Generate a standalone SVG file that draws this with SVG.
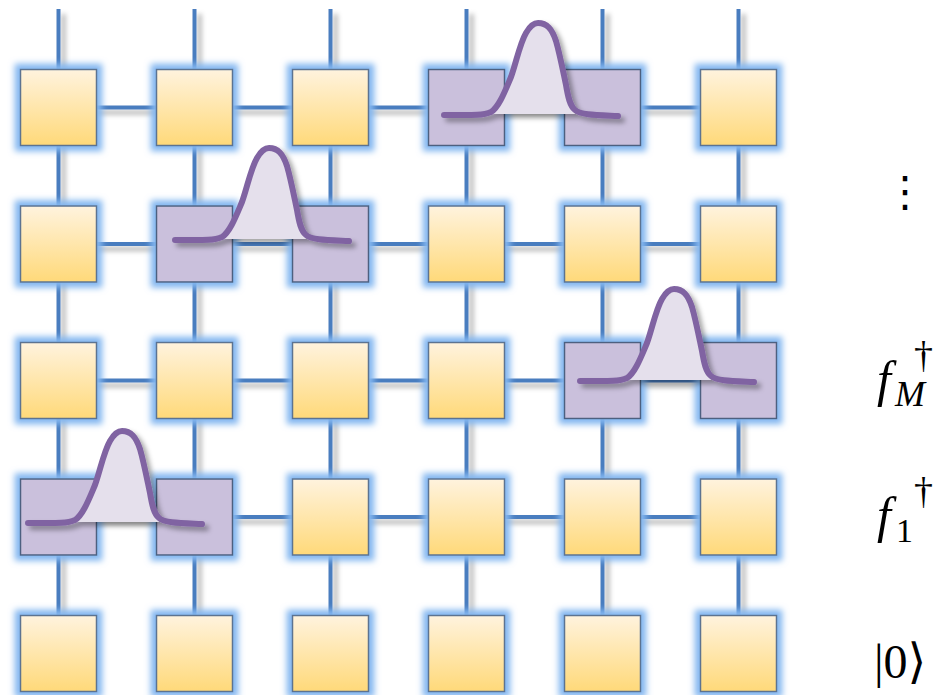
<svg xmlns="http://www.w3.org/2000/svg" xmlns:xlink="http://www.w3.org/1999/xlink" width="940" height="695" viewBox="0 0 940 695">
<defs>
<style>
.ln{stroke:#4a7dbf;stroke-width:4;fill:none}
.sq{fill:url(#yel);stroke:#5b7391;stroke-width:1.5}
.pq{fill:#cac0dc;stroke:#4d6180;stroke-width:1.5}
.gs{fill:none;stroke:#8064a2;stroke-width:6;stroke-linecap:round;stroke-linejoin:round}
.gf{fill:#e5e0ec}
.mt{font-family:"Liberation Serif","DejaVu Serif",serif;fill:#000}
</style>
<linearGradient id="yel" x1="0" y1="0" x2="0" y2="1">
<stop offset="0" stop-color="#fff3de"/>
<stop offset="1" stop-color="#ffd979"/>
</linearGradient>
<filter id="sh" x="-10%" y="-10%" width="120%" height="120%">
<feDropShadow dx="5" dy="5" stdDeviation="2.5" flood-color="#000" flood-opacity="0.3"/>
</filter>
<filter id="glow" x="-30%" y="-30%" width="160%" height="160%">
<feMorphology in="SourceAlpha" operator="dilate" radius="5" result="d"/>
<feGaussianBlur in="d" stdDeviation="3" result="b"/>
<feFlood flood-color="#82b6f0"/>
<feComposite in2="b" operator="in" result="g"/>
<feMerge><feMergeNode in="g"/><feMergeNode in="SourceGraphic"/></feMerge>
</filter>
<filter id="gsh" x="-20%" y="-20%" width="140%" height="140%">
<feDropShadow dx="4" dy="4" stdDeviation="2.5" flood-color="#000" flood-opacity="0.35"/>
</filter>
<g id="gauss" filter="url(#gsh)">
<path class="gf" d="M47,-1 C55,-8 61,-24 67,-38 C72,-52 76,-72 82,-82 C86,-89 90,-92 94,-92 C103,-92 108,-86 112,-74 C116,-60 119,-44 122,-30 C124,-18 126,-9 131,-1 Z"/>
<path class="gs" d="M0,0 C24,0 38,1 47,-3 C55,-8 61,-24 67,-38 C72,-52 76,-72 82,-82 C86,-89 90,-92 94,-92 C103,-92 108,-86 112,-74 C116,-60 119,-44 122,-30 C124,-18 126,-9 131,-5 C137,0 152,0 174,1"/>
</g>
</defs>
<rect width="940" height="695" fill="#fff"/>
<g id="connectors" filter="url(#sh)">
<line class="ln" x1="58.5" y1="9" x2="58.5" y2="616"/>
<line class="ln" x1="194.5" y1="9" x2="194.5" y2="616"/>
<line class="ln" x1="330.5" y1="9" x2="330.5" y2="616"/>
<line class="ln" x1="466.5" y1="9" x2="466.5" y2="616"/>
<line class="ln" x1="602.5" y1="9" x2="602.5" y2="616"/>
<line class="ln" x1="738.5" y1="9" x2="738.5" y2="616"/>
<line class="ln" x1="58.5" y1="107.5" x2="738.5" y2="107.5"/>
<line class="ln" x1="58.5" y1="244" x2="738.5" y2="244"/>
<line class="ln" x1="58.5" y1="380.5" x2="738.5" y2="380.5"/>
<line class="ln" x1="58.5" y1="517" x2="738.5" y2="517"/>
</g>
<g filter="url(#glow)">
<g id="n0_0"><rect class="sq" x="20.5" y="69.5" width="76" height="76"/></g>
<g id="n0_1"><rect class="sq" x="156.5" y="69.5" width="76" height="76"/></g>
<g id="n0_2"><rect class="sq" x="292.5" y="69.5" width="76" height="76"/></g>
<g id="n0_3"><rect class="pq" x="428.5" y="69.5" width="76" height="76"/></g>
<g id="n0_4"><rect class="pq" x="564.5" y="69.5" width="76" height="76"/></g>
<g id="n0_5"><rect class="sq" x="700.5" y="69.5" width="76" height="76"/></g>
<g id="n1_0"><rect class="sq" x="20.5" y="206" width="76" height="76"/></g>
<g id="n1_1"><rect class="pq" x="156.5" y="206" width="76" height="76"/></g>
<g id="n1_2"><rect class="pq" x="292.5" y="206" width="76" height="76"/></g>
<g id="n1_3"><rect class="sq" x="428.5" y="206" width="76" height="76"/></g>
<g id="n1_4"><rect class="sq" x="564.5" y="206" width="76" height="76"/></g>
<g id="n1_5"><rect class="sq" x="700.5" y="206" width="76" height="76"/></g>
<g id="n2_0"><rect class="sq" x="20.5" y="342.5" width="76" height="76"/></g>
<g id="n2_1"><rect class="sq" x="156.5" y="342.5" width="76" height="76"/></g>
<g id="n2_2"><rect class="sq" x="292.5" y="342.5" width="76" height="76"/></g>
<g id="n2_3"><rect class="sq" x="428.5" y="342.5" width="76" height="76"/></g>
<g id="n2_4"><rect class="pq" x="564.5" y="342.5" width="76" height="76"/></g>
<g id="n2_5"><rect class="pq" x="700.5" y="342.5" width="76" height="76"/></g>
<g id="n3_0"><rect class="pq" x="20.5" y="479" width="76" height="76"/></g>
<g id="n3_1"><rect class="pq" x="156.5" y="479" width="76" height="76"/></g>
<g id="n3_2"><rect class="sq" x="292.5" y="479" width="76" height="76"/></g>
<g id="n3_3"><rect class="sq" x="428.5" y="479" width="76" height="76"/></g>
<g id="n3_4"><rect class="sq" x="564.5" y="479" width="76" height="76"/></g>
<g id="n3_5"><rect class="sq" x="700.5" y="479" width="76" height="76"/></g>
<g id="n4_0"><rect class="sq" x="20.5" y="615.5" width="76" height="76"/></g>
<g id="n4_1"><rect class="sq" x="156.5" y="615.5" width="76" height="76"/></g>
<g id="n4_2"><rect class="sq" x="292.5" y="615.5" width="76" height="76"/></g>
<g id="n4_3"><rect class="sq" x="428.5" y="615.5" width="76" height="76"/></g>
<g id="n4_4"><rect class="sq" x="564.5" y="615.5" width="76" height="76"/></g>
<g id="n4_5"><rect class="sq" x="700.5" y="615.5" width="76" height="76"/></g>
</g>
<g id="gauss1"><use href="#gauss" xlink:href="#gauss" transform="translate(444,115)"/></g>
<g id="gauss2"><use href="#gauss" xlink:href="#gauss" transform="translate(175,240)"/></g>
<g id="gauss3"><use href="#gauss" xlink:href="#gauss" transform="translate(580,381)"/></g>
<g id="gauss4"><use href="#gauss" xlink:href="#gauss" transform="translate(28,523)"/></g>
<g id="labels">
<text x="905" y="206" font-family="DejaVu Sans, sans-serif" font-size="42" text-anchor="middle">⋮</text>
<text class="mt" x="877" y="396" font-size="50" font-style="italic">f</text>
<text class="mt" x="895" y="406" font-size="36" font-style="italic">M</text>
<text class="mt" x="914" y="368" font-size="38">†</text>
<text class="mt" x="877" y="532" font-size="50" font-style="italic">f</text>
<text class="mt" x="896" y="542" font-size="34">1</text>
<text class="mt" x="914" y="504" font-size="38">†</text>
<text class="mt" x="874" y="678" font-size="48">|0⟩</text>
</g>
</svg>
